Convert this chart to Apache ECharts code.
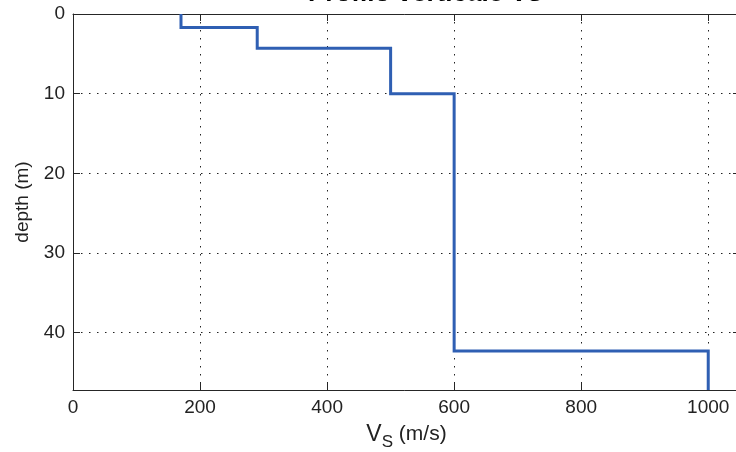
<!DOCTYPE html>
<html><head><meta charset="utf-8">
<script src="https://cdn.jsdelivr.net/npm/echarts@6/dist/echarts.min.js"></script>
<style>html,body{margin:0;padding:0;background:#fff}#c{width:736px;height:452px}</style>
</head><body><div id="c"></div>
<script>
// Layer shear-wave velocities (m/s) and layer depths (m)
var vsValues = [170, 290, 500, 600, 1000];
var layerTop = [0, 1.7, 4.3, 10, 42.3];
var layerBottom = [1.7, 4.3, 10, 42.3, 47.2];
var xTicks = [0, 200, 400, 600, 800, 1000];
var yTicks = [0, 10, 20, 30, 40];

var pts = [];
for (var i = 0; i < vsValues.length; i++) {
  pts.push([vsValues[i], layerTop[i]]);
  pts.push([vsValues[i], layerBottom[i]]);
}

var font = 'Liberation Sans, Arial, sans-serif';
var axCol = '#262626';
var chart = echarts.init(document.getElementById('c'), null, {renderer: 'canvas'});
chart.setOption({
  animation: false,
  backgroundColor: '#fff',
  title: {
    text: 'Profilo verticale Vs',
    left: 303, top: -24,
    textStyle: {fontFamily: font, fontWeight: 'bold', fontSize: 26, color: '#000'}
  },
  grid: {left: 73, top: 14, width: 667, height: 376, outerBoundsMode: 'none', containLabel: false},
  xAxis: [{
    type: 'value', position: 'bottom', min: 0, max: 1050, interval: 200,
    axisLine: {show: true, onZero: false, lineStyle: {color: axCol, width: 1}},
    axisTick: {show: true, inside: true, length: 7, lineStyle: {color: axCol}},
    axisLabel: {margin: 8, fontFamily: font, fontSize: 19, color: '#222',
      formatter: function (v) { return xTicks.indexOf(v) >= 0 ? String(v) : ''; }},
    splitLine: {show: true, lineStyle: {color: '#222', width: 1, type: [1.5, 6.5]}},
    name: '{v|V}{b|S}{a| (m/s)}', nameLocation: 'middle', nameGap: 33,
    nameTextStyle: {rich: {
      v: {fontFamily: font, fontSize: 23, color: '#222', verticalAlign: 'top', lineHeight: 24},
      a: {fontFamily: font, fontSize: 21, color: '#222', verticalAlign: 'top', lineHeight: 24, padding: [1, 0, 0, 0]},
      b: {fontFamily: font, fontSize: 17, color: '#222', verticalAlign: 'top', lineHeight: 18, padding: [11, 0, 0, 0]}
    }}
  }, {
    type: 'value', position: 'top', min: 0, max: 1050, interval: 200,
    axisLine: {show: true, onZero: false, lineStyle: {color: axCol, width: 1}},
    axisTick: {show: true, inside: true, length: 7, lineStyle: {color: axCol}},
    axisLabel: {show: false}, splitLine: {show: false}
  }],
  yAxis: [{
    type: 'value', inverse: true, min: 0, max: 47.2, interval: 10, position: 'left',
    axisLine: {show: true, onZero: false, lineStyle: {color: axCol, width: 1}},
    axisTick: {show: true, inside: true, length: 7, lineStyle: {color: axCol}},
    axisLabel: {margin: 8, fontFamily: font, fontSize: 19, color: '#222',
      formatter: function (v) { return yTicks.indexOf(v) >= 0 ? String(v) : ''; }},
    splitLine: {show: true, lineStyle: {color: '#222', width: 1, type: [1.5, 6.5]}},
    name: 'depth (m)', nameLocation: 'middle', nameGap: 41, nameRotate: 90,
    nameTextStyle: {fontFamily: font, fontSize: 19, color: '#222'}
  }, {
    type: 'value', inverse: true, min: 0, max: 47.2, interval: 10, position: 'right',
    axisLine: {show: true, onZero: false, lineStyle: {color: axCol, width: 1}},
    axisTick: {show: true, inside: true, length: 7, lineStyle: {color: axCol}},
    axisLabel: {show: false}, splitLine: {show: false}
  }],
  series: [{
    type: 'line', data: pts, xAxisIndex: 0, yAxisIndex: 0,
    showSymbol: false, symbol: 'none', clip: false,
    lineStyle: {color: '#2f5fb3', width: 3, join: 'miter'}
  }]
});
</script></body></html>
